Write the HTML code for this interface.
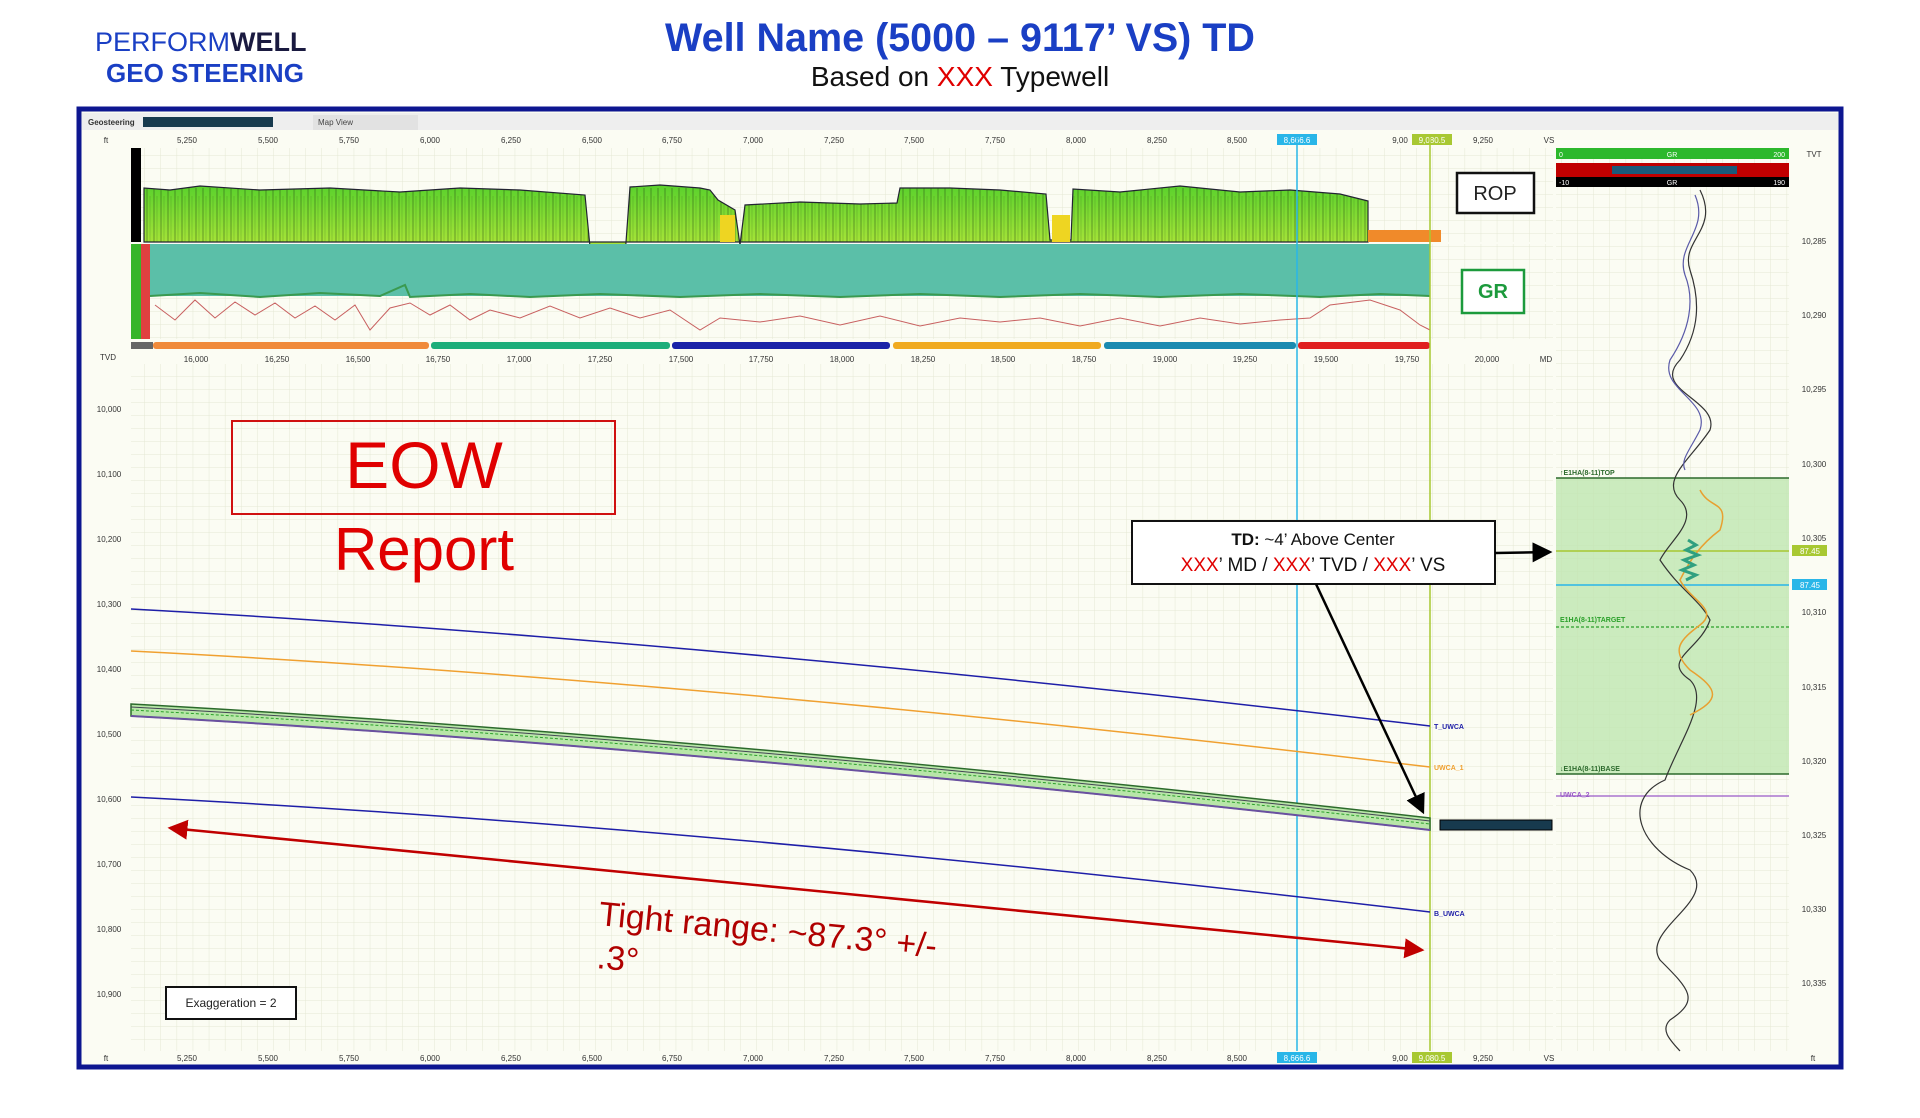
<!DOCTYPE html>
<html><head><meta charset="utf-8"><style>
body{margin:0;background:#fff;width:1920px;height:1113px;overflow:hidden;font-family:"Liberation Sans",sans-serif}
</style></head><body>
<svg width="1920" height="1113" viewBox="0 0 1920 1113" xmlns="http://www.w3.org/2000/svg" font-family="Liberation Sans, sans-serif">
<defs>
<pattern id="g" width="16.1" height="13" patternUnits="userSpaceOnUse"><path d="M16.1 0V13M0 13H16.1" stroke="#e4e8d4" stroke-width="1" fill="none"/></pattern>
<pattern id="spk" width="7" height="94" patternUnits="userSpaceOnUse" x="131" y="148"><path d="M2 40V94" stroke="#1d3a10" stroke-width="0.8" opacity="0.55"/><path d="M5 48V94" stroke="#2a5a18" stroke-width="0.6" opacity="0.35"/></pattern>
<linearGradient id="rop" x1="0" y1="0" x2="0" y2="1"><stop offset="0" stop-color="#5ad12c"/><stop offset="1" stop-color="#b7e83a"/></linearGradient>
<clipPath id="ropc"><polygon points="144,242 144,188 170,190 200,186 260,190 330,188 400,192 460,188 520,190 585,195 590,247 595,255 600,256 625,256 630,187 660,185 700,188 710,190 718,200 735,210 740,245 745,205 800,202 860,204 897,203 900,188 950,188 1000,190 1046,194 1050,240 1071,240 1073,189 1120,192 1180,186 1240,192 1290,190 1340,194 1368,201 1368,242"/></clipPath>
<marker id="ab" markerWidth="8" markerHeight="8" refX="7" refY="4" orient="auto" markerUnits="strokeWidth"><path d="M0,0L8,4L0,8z" fill="#000"/></marker>
<marker id="ar" markerWidth="8" markerHeight="8" refX="7" refY="4" orient="auto-start-reverse" markerUnits="strokeWidth"><path d="M0,0L8,4L0,8z" fill="#c00000"/></marker>
</defs>
<!-- header -->
<text x="95" y="51" font-size="27" fill="#1a3fc4">PERFORM<tspan font-weight="bold" fill="#1a1a40">WELL</tspan></text>
<text x="106" y="82" font-size="26" font-weight="bold" fill="#1a3fc4">GEO STEERING</text>
<text x="960" y="51" font-size="39.5" font-weight="bold" fill="#1a3fc4" text-anchor="middle">Well Name (5000 – 9117’ VS) TD</text>
<text x="960" y="86" font-size="28" fill="#111" text-anchor="middle">Based on <tspan fill="#e00000">XXX</tspan> Typewell</text>
<!-- frame -->
<rect x="79" y="109" width="1762" height="958" fill="#fbfcf3" stroke="#0d1690" stroke-width="5"/>
<rect x="82" y="113" width="1756" height="17" fill="#eeeeee"/>
<text x="88" y="125" font-size="8" font-weight="bold" fill="#333">Geosteering</text>
<rect x="143" y="117" width="130" height="10" fill="#173a4e"/>
<rect x="313" y="115" width="105" height="15" fill="#e2e2e2"/>
<text x="318" y="125" font-size="8" fill="#444">Map View</text>
<!-- top axis -->
<g font-size="8" fill="#333" text-anchor="middle">
<text x="106" y="143">ft</text>
<text x="187" y="143">5,250</text><text x="268" y="143">5,500</text><text x="349" y="143">5,750</text><text x="430" y="143">6,000</text><text x="511" y="143">6,250</text><text x="592" y="143">6,500</text><text x="672" y="143">6,750</text><text x="753" y="143">7,000</text><text x="834" y="143">7,250</text><text x="914" y="143">7,500</text><text x="995" y="143">7,750</text><text x="1076" y="143">8,000</text><text x="1157" y="143">8,250</text><text x="1237" y="143">8,500</text><text x="1400" y="143">9,00</text><text x="1483" y="143">9,250</text><text x="1549" y="143">VS</text>
<text x="106" y="1061">ft</text>
<text x="187" y="1061">5,250</text><text x="268" y="1061">5,500</text><text x="349" y="1061">5,750</text><text x="430" y="1061">6,000</text><text x="511" y="1061">6,250</text><text x="592" y="1061">6,500</text><text x="672" y="1061">6,750</text><text x="753" y="1061">7,000</text><text x="834" y="1061">7,250</text><text x="914" y="1061">7,500</text><text x="995" y="1061">7,750</text><text x="1076" y="1061">8,000</text><text x="1157" y="1061">8,250</text><text x="1237" y="1061">8,500</text><text x="1400" y="1061">9,00</text><text x="1483" y="1061">9,250</text><text x="1549" y="1061">VS</text>
<text x="1813" y="1061">ft</text>
</g>
<rect x="1277" y="134" width="40" height="11" fill="#29b6e8"/><text x="1297" y="143" font-size="8" fill="#fff" text-anchor="middle">8,666.6</text>
<rect x="1412" y="134" width="40" height="11" fill="#a8c832"/><text x="1432" y="143" font-size="8" fill="#fff" text-anchor="middle">9,080.5</text>
<rect x="1277" y="1052" width="40" height="11" fill="#29b6e8"/><text x="1297" y="1061" font-size="8" fill="#fff" text-anchor="middle">8,666.6</text>
<rect x="1412" y="1052" width="40" height="11" fill="#a8c832"/><text x="1432" y="1061" font-size="8" fill="#fff" text-anchor="middle">9,080.5</text>
<!-- grids -->
<rect x="131" y="148" width="1422" height="94" fill="url(#g)"/>
<rect x="131" y="244" width="1422" height="95" fill="url(#g)"/>
<rect x="131" y="364" width="1422" height="687" fill="url(#g)"/>
<rect x="1556" y="148" width="233" height="903" fill="url(#g)"/>
<!-- ROP -->
<rect x="131" y="148" width="10" height="94" fill="#000"/>
<polygon points="144,242 144,188 170,190 200,186 260,190 330,188 400,192 460,188 520,190 585,195 590,247 595,255 600,256 625,256 630,187 660,185 700,188 710,190 718,200 735,210 740,245 745,205 800,202 860,204 897,203 900,188 950,188 1000,190 1046,194 1050,240 1071,240 1073,189 1120,192 1180,186 1240,192 1290,190 1340,194 1368,201 1368,242" fill="url(#rop)" stroke="#223" stroke-width="1.2"/>
<rect x="131" y="148" width="1240" height="94" fill="url(#spk)" clip-path="url(#ropc)"/>
<rect x="720" y="215" width="15" height="27" fill="#eed522"/><rect x="1052" y="215" width="18" height="27" fill="#eed522"/>
<rect x="1368" y="230" width="73" height="12" fill="#f08a2a"/>
<rect x="1457" y="173" width="77" height="40" fill="#fff" stroke="#111" stroke-width="2.5"/>
<text x="1495" y="200" font-size="20" fill="#222" text-anchor="middle">ROP</text>
<!-- GR -->
<rect x="131" y="244" width="10" height="95" fill="#37b52a"/><rect x="141" y="244" width="9" height="95" fill="#e04040"/>
<rect x="150" y="244" width="1280" height="52" fill="#5bbfa8"/>
<polyline points="150,296 200,293 260,297 320,293 380,296 405,285 410,297 470,294 530,297 600,294 680,297 760,294 840,297 920,294 1000,297 1080,294 1160,297 1240,294 1320,297 1380,294 1430,296" fill="none" stroke="#3a9a50" stroke-width="2"/>
<polyline points="155,305 175,320 195,300 215,318 235,302 255,315 275,303 295,318 315,306 335,320 355,305 370,330 390,308 410,303 430,315 450,305 470,320 490,310 520,318 550,306 580,318 610,308 640,318 670,310 700,330 720,318 760,322 800,316 840,325 880,316 920,326 960,318 1000,322 1040,318 1080,326 1120,318 1160,326 1200,318 1240,324 1280,320 1310,318 1330,305 1370,300 1400,310 1420,325 1430,330" fill="none" stroke="#c86060" stroke-width="1"/>
<rect x="1462" y="270" width="62" height="43" fill="#fff" stroke="#1c9a3c" stroke-width="2.5"/>
<text x="1493" y="298" font-size="20" font-weight="bold" fill="#1c9a3c" text-anchor="middle">GR</text>
<!-- color bar -->
<rect x="131" y="342" width="22" height="7" fill="#666"/>
<rect x="153" y="342" width="276" height="7" rx="3" fill="#f08a3a"/>
<rect x="431" y="342" width="239" height="7" rx="3" fill="#1cae7a"/>
<rect x="672" y="342" width="218" height="7" rx="3" fill="#1a22a8"/>
<rect x="893" y="342" width="208" height="7" rx="3" fill="#f0aa20"/>
<rect x="1104" y="342" width="192" height="7" rx="3" fill="#1a8ab0"/>
<rect x="1298" y="342" width="132" height="7" rx="3" fill="#e02020"/>
<g font-size="8" fill="#333" text-anchor="middle">
<text x="108" y="360">TVD</text>
<text x="196" y="362">16,000</text><text x="277" y="362">16,250</text><text x="358" y="362">16,500</text><text x="438" y="362">16,750</text><text x="519" y="362">17,000</text><text x="600" y="362">17,250</text><text x="681" y="362">17,500</text><text x="761" y="362">17,750</text><text x="842" y="362">18,000</text><text x="923" y="362">18,250</text><text x="1003" y="362">18,500</text><text x="1084" y="362">18,750</text><text x="1165" y="362">19,000</text><text x="1245" y="362">19,250</text><text x="1326" y="362">19,500</text><text x="1407" y="362">19,750</text><text x="1487" y="362">20,000</text><text x="1546" y="362">MD</text>
<text x="109" y="412">10,000</text><text x="109" y="477">10,100</text><text x="109" y="542">10,200</text><text x="109" y="607">10,300</text><text x="109" y="672">10,400</text><text x="109" y="737">10,500</text><text x="109" y="802">10,600</text><text x="109" y="867">10,700</text><text x="109" y="932">10,800</text><text x="109" y="997">10,900</text>
<text x="1814" y="157">TVT</text>
<text x="1814" y="244">10,285</text><text x="1814" y="318">10,290</text><text x="1814" y="392">10,295</text><text x="1814" y="467">10,300</text><text x="1814" y="541">10,305</text><text x="1814" y="615">10,310</text><text x="1814" y="690">10,315</text><text x="1814" y="764">10,320</text><text x="1814" y="838">10,325</text><text x="1814" y="912">10,330</text><text x="1814" y="986">10,335</text>
</g>
<!-- vertical markers -->
<line x1="1297" y1="134" x2="1297" y2="1051" stroke="#29b6e8" stroke-width="1.5"/>
<line x1="1430" y1="134" x2="1430" y2="1051" stroke="#a8c832" stroke-width="1.5"/>
<!-- horizons -->
<path d="M131,609 Q700,640 1430,726" fill="none" stroke="#1e1ea8" stroke-width="1.5"/>
<path d="M131,651 Q700,680 1430,767" fill="none" stroke="#f0a030" stroke-width="1.5"/>
<path d="M131,704 Q700,735 1430,818 L1430,830 Q700,747 131,716 Z" fill="#b8e6a8" stroke="#2c6a2c" stroke-width="1.5"/>
<path d="M131,707 Q700,738 1430,821" fill="none" stroke="#445" stroke-width="1"/>
<path d="M131,710 Q700,741 1430,824" fill="none" stroke="#2aa02a" stroke-width="1" stroke-dasharray="3,2"/>
<path d="M131,716 Q700,747 1430,830" fill="none" stroke="#6a50a0" stroke-width="2"/>
<path d="M131,797 Q700,826 1430,912" fill="none" stroke="#1e1ea8" stroke-width="1.5"/>
<rect x="1440" y="820" width="112" height="10" fill="#173a4e" stroke="#000"/>
<g font-size="7" font-weight="bold"><text x="1434" y="729" fill="#1e1ea8">T_UWCA</text><text x="1434" y="770" fill="#f0a030">UWCA_1</text><text x="1434" y="916" fill="#1e1ea8">B_UWCA</text></g>
<!-- EOW -->
<rect x="232" y="421" width="383" height="93" fill="none" stroke="#d01010" stroke-width="2"/>
<text x="424" y="488" font-size="66" fill="#e00000" text-anchor="middle">EOW</text>
<text x="424" y="570" font-size="60" fill="#e00000" text-anchor="middle">Report</text>
<!-- TD box -->
<rect x="1132" y="521" width="363" height="63" fill="#fff" stroke="#111" stroke-width="2"/>
<text x="1313" y="545" font-size="17" fill="#111" text-anchor="middle"><tspan font-weight="bold">TD:</tspan> ~4’ Above Center</text>
<text x="1313" y="571" font-size="19" fill="#111" text-anchor="middle"><tspan fill="#e00000">XXX</tspan>’ MD / <tspan fill="#e00000">XXX</tspan>’ TVD / <tspan fill="#e00000">XXX</tspan>’ VS</text>
<line x1="1495" y1="553" x2="1550" y2="552" stroke="#000" stroke-width="2.5" marker-end="url(#ab)"/>
<line x1="1316" y1="584" x2="1423" y2="812" stroke="#000" stroke-width="2.5" marker-end="url(#ab)"/>
<!-- red arrow -->
<line x1="170" y1="828" x2="1422" y2="950" stroke="#c00000" stroke-width="2.5" marker-start="url(#ar)" marker-end="url(#ar)"/>
<text x="598" y="925" font-size="34" fill="#b00000" transform="rotate(5.5 598 925)">Tight range: ~87.3° +/-</text>
<text x="596" y="968" font-size="34" fill="#b00000" transform="rotate(5.5 596 968)">.3°</text>
<rect x="166" y="987" width="130" height="32" fill="#fff" stroke="#111" stroke-width="2"/>
<text x="231" y="1007" font-size="12" fill="#222" text-anchor="middle">Exaggeration = 2</text>
<!-- right panel -->
<rect x="1556" y="148" width="233" height="11" fill="#2cb82c"/>
<text x="1672" y="157" font-size="7" fill="#fff" text-anchor="middle">GR</text><text x="1559" y="157" font-size="7" fill="#fff">0</text><text x="1785" y="157" font-size="7" fill="#fff" text-anchor="end">200</text>
<rect x="1556" y="163" width="233" height="14" fill="#c00000"/><rect x="1612" y="166" width="125" height="8" fill="#1a5a7a"/>
<rect x="1556" y="177" width="233" height="10" fill="#000"/>
<text x="1559" y="185" font-size="7" fill="#fff">-10</text><text x="1672" y="185" font-size="7" fill="#fff" text-anchor="middle">GR</text><text x="1785" y="185" font-size="7" fill="#fff" text-anchor="end">190</text>
<rect x="1556" y="478" width="233" height="296" fill="#bfe6b0" opacity="0.8"/>
<line x1="1556" y1="478" x2="1789" y2="478" stroke="#2c6a2c" stroke-width="1.5"/>
<line x1="1556" y1="774" x2="1789" y2="774" stroke="#2c6a2c" stroke-width="1.5"/>
<line x1="1556" y1="627" x2="1789" y2="627" stroke="#2aa02a" stroke-width="1.2" stroke-dasharray="3,2"/>
<line x1="1556" y1="796" x2="1789" y2="796" stroke="#9a5ac8" stroke-width="1.2"/>
<line x1="1556" y1="551" x2="1789" y2="551" stroke="#a8c832" stroke-width="1.5"/>
<line x1="1556" y1="585" x2="1789" y2="585" stroke="#29b6e8" stroke-width="1.5"/>
<rect x="1792" y="545" width="35" height="11" fill="#a8c832"/><text x="1810" y="554" font-size="8" fill="#fff" text-anchor="middle">87.45</text>
<rect x="1792" y="579" width="35" height="11" fill="#29b6e8"/><text x="1810" y="588" font-size="8" fill="#fff" text-anchor="middle">87.45</text>
<g font-size="7" font-weight="bold"><text x="1560" y="475" fill="#2c6a2c">↑E1HA(8-11)TOP</text><text x="1560" y="622" fill="#2aa02a">E1HA(8-11)TARGET</text><text x="1560" y="771" fill="#2c6a2c">↓E1HA(8-11)BASE</text><text x="1560" y="797" fill="#9a5ac8">UWCA_2</text></g>
<path d="M1700,190 C1720,230 1680,240 1690,270 C1700,300 1700,330 1680,360 C1650,390 1720,400 1710,430 C1690,460 1660,480 1680,500 C1700,520 1670,540 1660,560 C1680,590 1700,600 1710,620 C1700,650 1660,660 1690,680 C1710,700 1680,740 1665,780 C1620,800 1640,850 1690,870 C1720,900 1640,930 1660,960 C1690,990 1700,1000 1670,1020 C1660,1030 1670,1040 1680,1051" fill="none" stroke="#333" stroke-width="1.2"/>
<path d="M1695,195 C1710,230 1675,245 1685,275 C1695,300 1690,330 1670,360 C1660,390 1710,400 1700,430 C1690,450 1680,460 1685,470" fill="none" stroke="#5a5aa8" stroke-width="1.2"/>
<path d="M1700,490 C1710,510 1730,500 1720,530 C1700,545 1690,560 1680,580 C1690,600 1720,610 1700,625 C1680,640 1670,650 1690,670 C1720,690 1720,700 1690,715" fill="none" stroke="#e8a030" stroke-width="1.5"/>
<path d="M1688,540 l8,5 -10,5 12,5 -14,5 10,5 -12,5 14,5 -10,5" fill="none" stroke="#30a080" stroke-width="3"/>
</svg>
</body></html>
